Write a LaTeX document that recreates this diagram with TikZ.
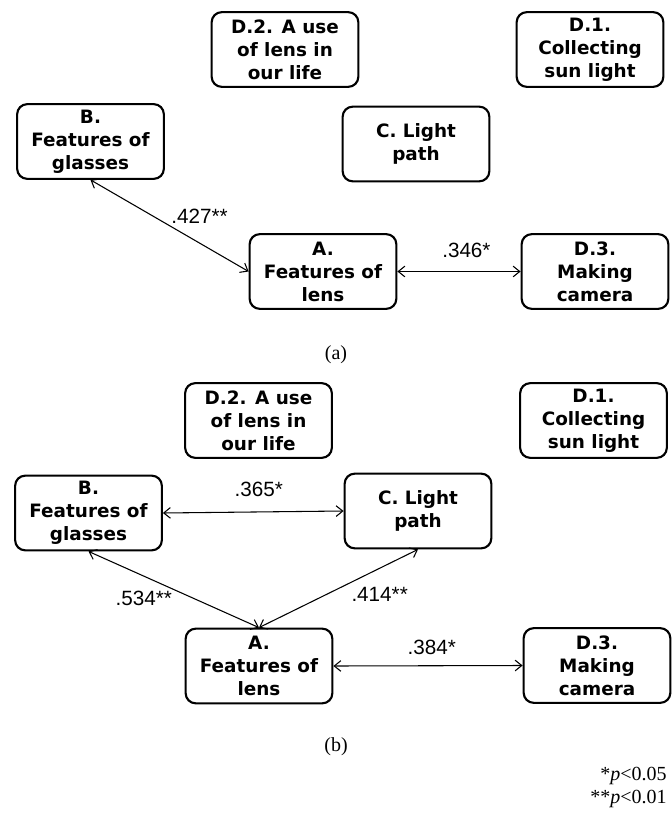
\documentclass[tikz,border=0pt]{standalone}
\usepackage{fontspec}
\setmainfont{Liberation Serif}
\newfontfamily\boxfont{DejaVu Sans}
\newfontfamily\lblfont{Liberation Sans}
\usetikzlibrary{arrows.meta,positioning}

\tikzset{
  box/.style={draw, line width=1.6pt, rounded corners=7.5pt,
    minimum width=110pt, minimum height=56pt, align=center, inner sep=1pt,
    font={\boxfont\bfseries\fontsize{13.8pt}{17.2pt}\selectfont}},
  lbl/.style={font={\lblfont\fontsize{15.5pt}{18pt}\selectfont}, inner sep=1pt},
  link/.style={{Straight Barb[length=5pt,width=8pt]}-{Straight Barb[length=5pt,width=8pt]}, line width=0.8pt},
  captxt/.style={font={\fontsize{15pt}{18pt}\selectfont}, inner sep=0pt}
}

\begin{document}
\begin{tikzpicture}[x=0.75pt,y=-0.75pt]
    \useasboundingbox (0,0) rectangle (671,816);

    % panel (a)
    \node[box] (D2a) at (285,49.5) {D.2. A use\\of lens in\\our life};
    \node[box] (D1a) at (590,49.5) {D.1.\\Collecting\\sun light};
    \node[box] (Ba) at (90.5,141.5) {B.\\Features of\\glasses};
    \node[box] (Ca) at (416,144) {C. Light\\path};
    \node[box] (Aa) at (323,271.5) {A.\\Features of\\lens};
    \node[box] (D3a) at (595,271.5) {D.3.\\Making\\camera};

    \draw[link] (Ba.south) -- node[lbl, pos=0.5, anchor=south west] {.427**} (Aa.west);
    \draw[link] (Aa.east) -- node[lbl, pos=0.56, above=9pt] {.346*} (D3a.west);

    \node[captxt] (capa) at (336,355) {(a)};

    % panel (b)
    \node[box] (D2b) at (258.5,420.5) {D.2. A use\\of lens in\\our life};
    \node[box] (D1b) at (593.5,420.5) {D.1.\\Collecting\\sun light};
    \node[box] (Bb) at (88.5,513) {B.\\Features of\\glasses};
    \node[box] (Cb) at (418,511) {C. Light\\path};
    \node[box] (Ab) at (259,666) {A.\\Features of\\lens};
    \node[box] (D3b) at (597,665.5) {D.3.\\Making\\camera};

    \draw[link] (Bb.east) -- node[lbl, pos=0.53, above=10pt] {.365*} (Cb.west);
    \draw[link] (Bb.south) -- node[lbl, pos=0.5, anchor=north east] {.534**} (Ab.north);
    \draw[link] (Cb.south) -- node[lbl, pos=0.43, anchor=north west, yshift=-2pt] {.414**} (Ab.north);
    \draw[link] (Ab.east) -- node[lbl, pos=0.52, above=7pt] {.384*} (D3b.west);

    \node[captxt] (capb) at (336,747) {(b)};

    % significance
    \node[captxt, anchor=east] (sig1) at (667,776) {*\textit{p}<0.05};
    \node[captxt, anchor=east] (sig2) at (667,799) {**\textit{p}<0.01};
\end{tikzpicture}
\end{document}
